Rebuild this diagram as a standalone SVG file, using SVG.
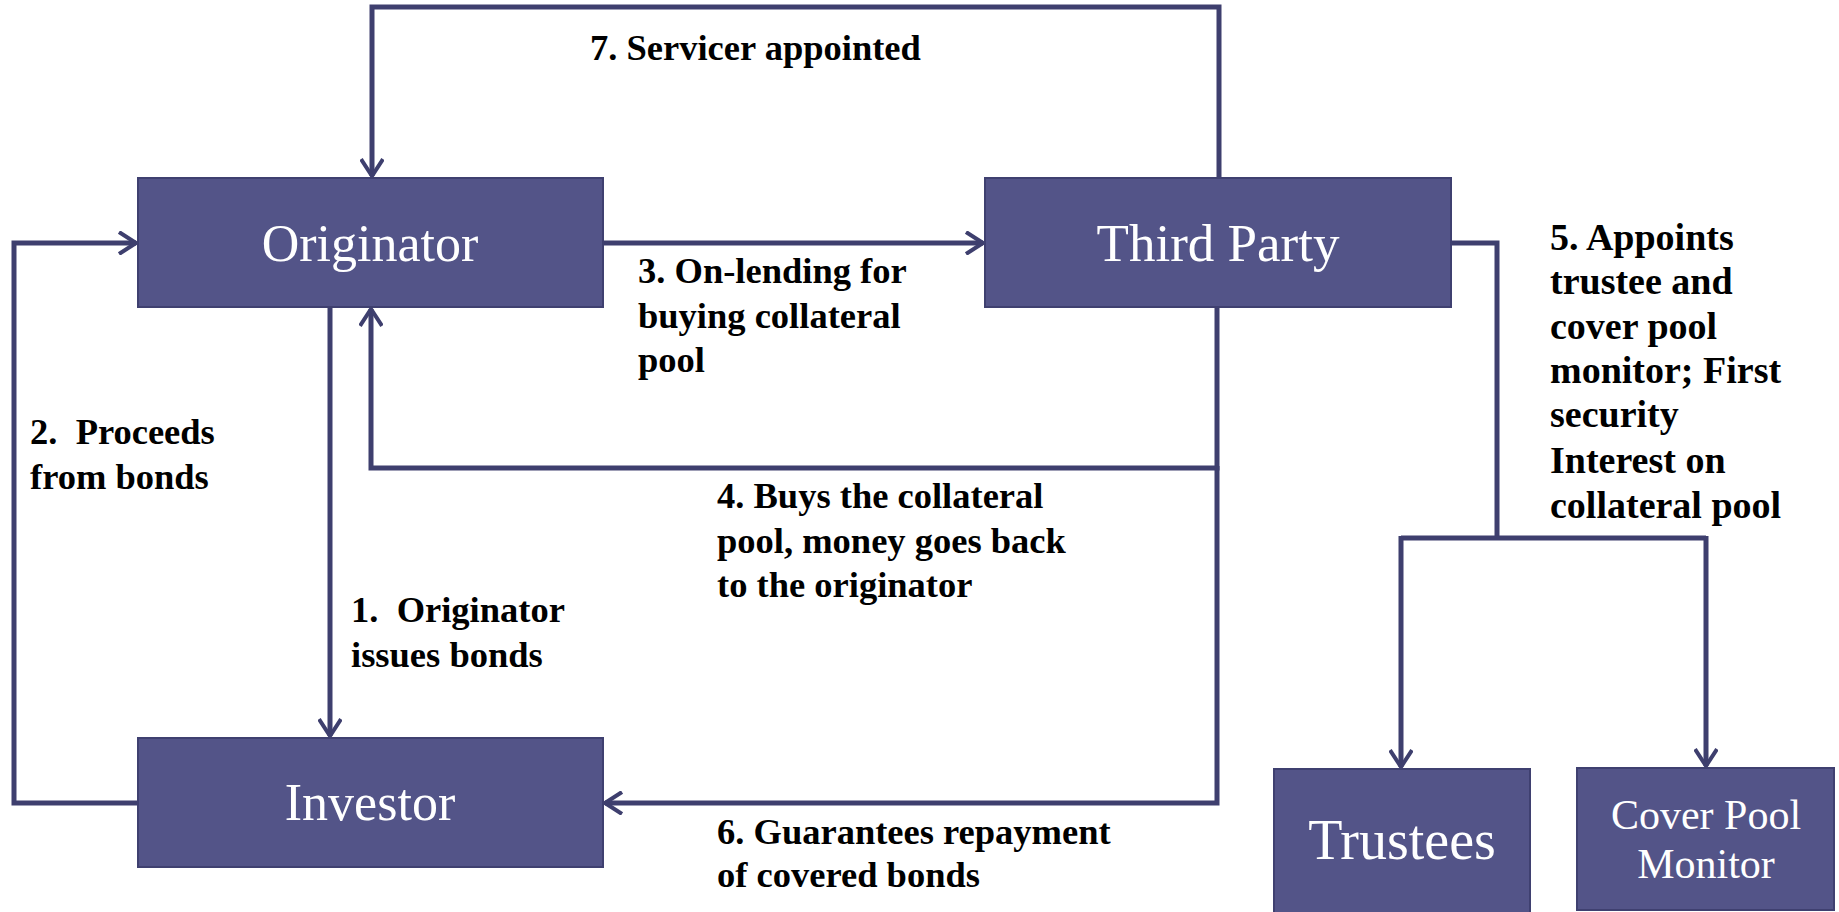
<svg xmlns="http://www.w3.org/2000/svg" width="1839" height="912" viewBox="0 0 1839 912">
<style>
.box{fill:#535488;stroke:#3f4070;stroke-width:2}
.nl{font-family:"Liberation Serif",serif;fill:#ffffff;text-anchor:middle}
.lbl{font-family:"Liberation Serif",serif;font-weight:bold;font-size:36.5px;fill:#000000}
.l5{font-size:38px}
.c{fill:none;stroke:#3e3f6e;stroke-width:5}
</style>
<defs>
<marker id="ah" viewBox="0 0 24 24" refX="21" refY="12" markerWidth="24" markerHeight="24" markerUnits="userSpaceOnUse" orient="auto">
<path d="M4,1 L21,12 L4,23" fill="none" stroke="#3e3f6e" stroke-width="4"/>
</marker>
</defs>
<rect width="1839" height="912" fill="#ffffff"/>
<g id="connectors">
<path class="c" d="M1219,178 V7 H372 V176" marker-end="url(#ah)"/>
<path class="c" d="M603,243 H983" marker-end="url(#ah)"/>
<path class="c" d="M138,803 H14 V243 H136" marker-end="url(#ah)"/>
<path class="c" d="M330,307 V736" marker-end="url(#ah)"/>
<path class="c" d="M1217,307 V468 H371 V309" marker-end="url(#ah)"/>
<path class="c" d="M1217,466 V803 H605" marker-end="url(#ah)"/>
<path class="c" d="M1451,243 H1497 V538"/>
<path class="c" d="M1401,538 H1706"/>
<path class="c" d="M1401,536 V767" marker-end="url(#ah)"/>
<path class="c" d="M1706,536 V766" marker-end="url(#ah)"/>
</g>
<g id="originator">
<rect class="box" x="138" y="178" width="465" height="129"/>
<text class="nl" x="370" y="261" font-size="52">Originator</text>
</g>
<g id="third-party">
<rect class="box" x="985" y="178" width="466" height="129"/>
<text class="nl" x="1218" y="261" font-size="53">Third Party</text>
</g>
<g id="investor">
<rect class="box" x="138" y="738" width="465" height="129"/>
<text class="nl" x="370" y="820" font-size="52">Investor</text>
</g>
<g id="trustees">
<rect class="box" x="1274" y="769" width="256" height="150"/>
<text class="nl" x="1402" y="859" font-size="56">Trustees</text>
</g>
<g id="cover-pool-monitor">
<rect class="box" x="1577" y="768" width="257" height="142"/>
<text class="nl" x="1706" y="829" font-size="42">Cover Pool</text>
<text class="nl" x="1706" y="878" font-size="42">Monitor</text>
</g>
<g id="labels">
<text class="lbl" x="590" y="60">7. Servicer appointed</text>
<text class="lbl" x="638" y="283">3. On-lending for</text>
<text class="lbl" x="638" y="328">buying collateral</text>
<text class="lbl" x="638" y="372">pool</text>
<text class="lbl" x="30" y="444" xml:space="preserve">2.  Proceeds</text>
<text class="lbl" x="30" y="489">from bonds</text>
<text class="lbl" x="351" y="622" xml:space="preserve">1.  Originator</text>
<text class="lbl" x="351" y="667">issues bonds</text>
<text class="lbl" x="717" y="508">4. Buys the collateral</text>
<text class="lbl" x="717" y="553">pool, money goes back</text>
<text class="lbl" x="717" y="597">to the originator</text>
<text class="lbl" x="717" y="844">6. Guarantees repayment</text>
<text class="lbl" x="717" y="887">of covered bonds</text>
<text class="lbl l5" x="1550" y="250">5. Appoints</text>
<text class="lbl l5" x="1550" y="294">trustee and</text>
<text class="lbl l5" x="1550" y="339">cover pool</text>
<text class="lbl l5" x="1550" y="383">monitor; First</text>
<text class="lbl l5" x="1550" y="427">security</text>
<text class="lbl l5" x="1550" y="473">Interest on</text>
<text class="lbl l5" x="1550" y="518">collateral pool</text>
</g>
</svg>
